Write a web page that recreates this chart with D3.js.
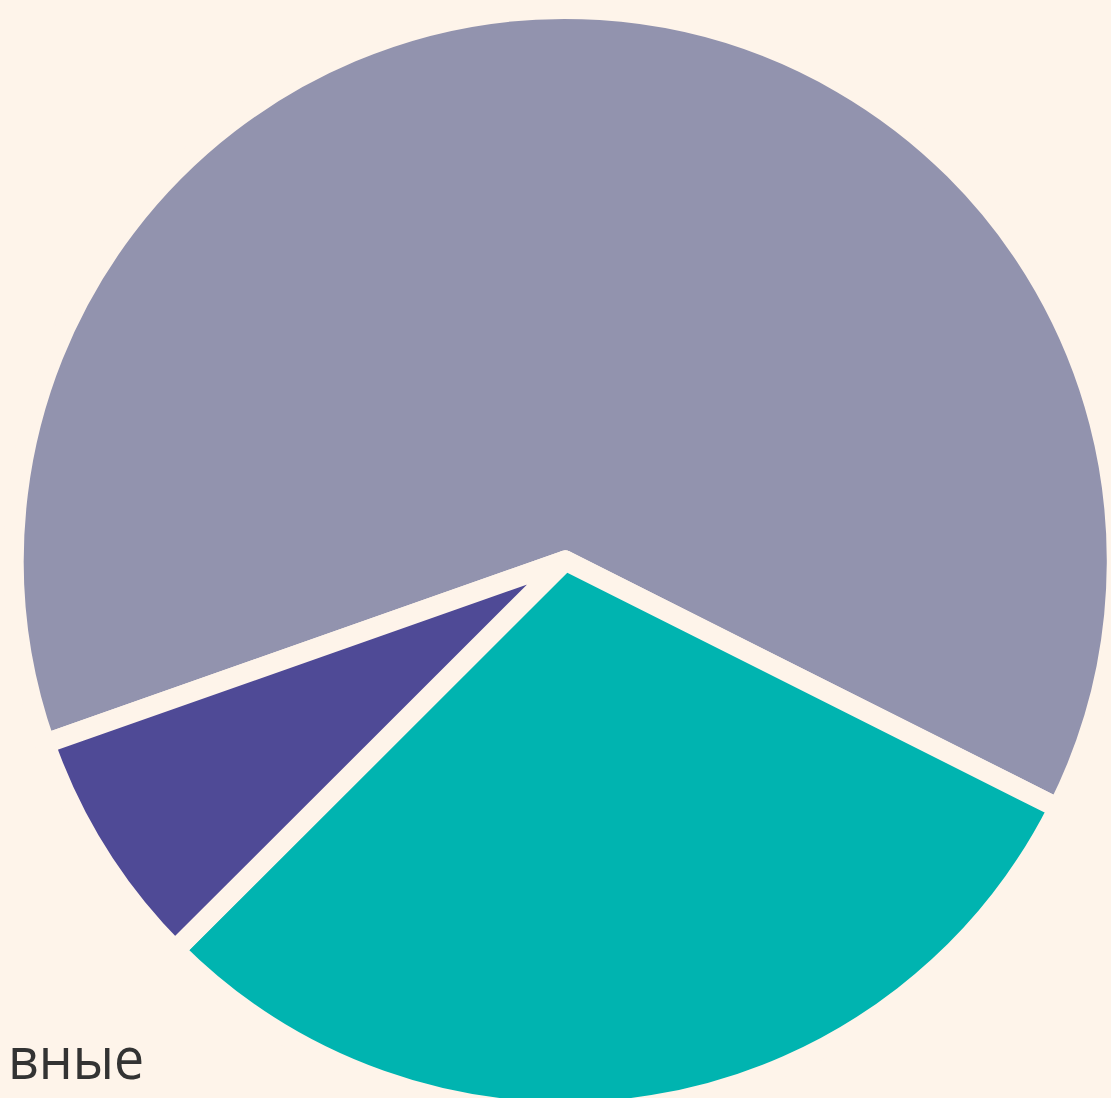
<!DOCTYPE html>
<html>
<head>
<meta charset="utf-8">
<script src="https://cdn.jsdelivr.net/npm/d3@7"></script>
<style>
  html, body { margin: 0; padding: 0; background: #fef4ea; overflow: hidden; }
  svg { display: block; }
</style>
</head>
<body>
<script>
// Data
const categories = ["Серые", "Бирюзовые", "Фиолетовые"];
const values = [62.8, 30.1, 7.1];
const colors = ["#9293ae", "#00b4b0", "#4f4a96"];
const labelText = "вные";

const W = 1111, H = 1098;
const bg = "#fef4ea";
const cx = 565.3, cy = 560.5;
const outerR = 551.5;

const svg = d3.select("body").append("svg")
  .attr("width", W).attr("height", H)
  .style("background", bg);

svg.append("rect").attr("width", W).attr("height", H).attr("fill", bg);

const startDeg = 250.6;
const pie = d3.pie().sort(null)
  .startAngle(startDeg * Math.PI / 180)
  .endAngle((startDeg + 360) * Math.PI / 180);

const arc = d3.arc().innerRadius(0).outerRadius(outerR);

const data = categories.map((c, i) => ({ name: c, value: values[i], color: colors[i] }));

const g = svg.append("g").attr("transform", `translate(${cx},${cy})`);

g.selectAll("path.slice")
  .data(pie.value(d => d.value)(data))
  .join("path")
  .attr("class", "slice")
  .attr("d", arc)
  .attr("fill", d => d.data.color)
  .attr("stroke", bg)
  .attr("stroke-width", 20)
  .attr("stroke-linejoin", "round");

const label = svg.append("text")
  .attr("transform", "translate(8,1079) scale(0.91,1)")
  .attr("font-family", "'Open Sans', 'Noto Sans', sans-serif")
  .attr("font-size", 59)
  .attr("fill", "#333333")
  .text(labelText);
</script>
</body>
</html>
